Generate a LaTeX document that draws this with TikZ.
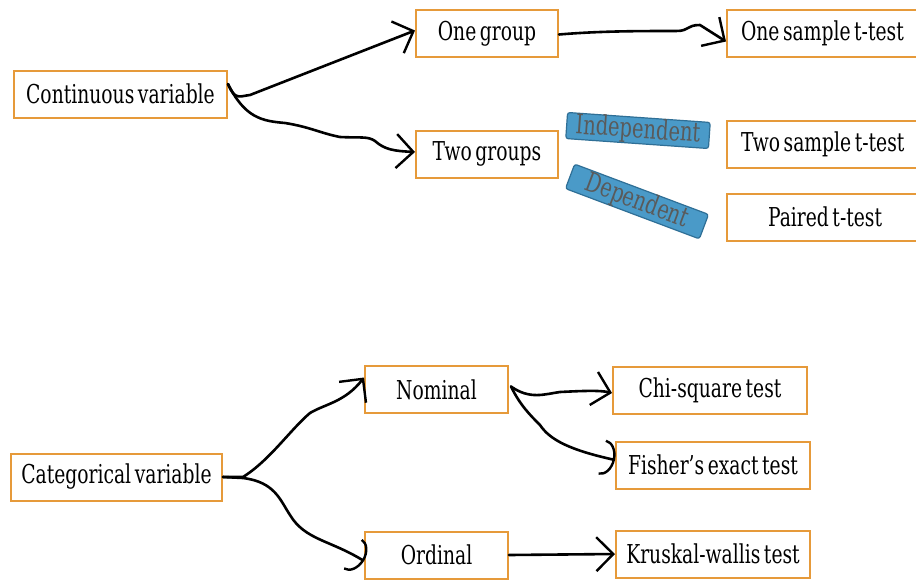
\documentclass[tikz,border=0pt]{standalone}
\usepackage{fontspec}
\setmainfont{DejaVu Serif}[FakeStretch=0.72, WordSpace=0.6]
\usetikzlibrary{arrows.meta}
\definecolor{boxorange}{HTML}{E69A3A}
\definecolor{tagblue}{HTML}{4A9AC8}
\definecolor{tagedge}{HTML}{2F6F96}
\definecolor{taggray}{HTML}{5A5A5A}
\tikzset{
  box/.style={draw=boxorange, line width=2pt, fill=white, minimum height=47pt, inner sep=0pt, font=\fontsize{26pt}{28pt}\selectfont},
  tag/.style={draw=tagedge, fill=tagblue, line width=1.2pt, rounded corners=2.5pt, minimum width=143pt, minimum height=23pt, inner sep=0pt, text=taggray, font=\fontsize{27pt}{27pt}\selectfont},
  hand/.style={line width=2.6pt, line cap=round, line join=round},
  barb/.style={hand, -{Straight Barb[length=17pt, width=34pt, line width=2.4pt]}},
  arcb/.style={hand, -{Arc Barb[length=13pt, width=36pt, line width=2.4pt]}}
}
\begin{document}
\begin{tikzpicture}[x=1pt, y=-1pt]
\useasboundingbox (0,0) rectangle (916,579);
\fill[white] (0,0) rectangle (916,579);
\begin{scope}
\clip (0,0) rectangle (916,579);
% top
\node[box, minimum width=213pt] (cont) at (120.5,94) {Continuous variable};
\node[box, minimum width=142pt] (one) at (487,33.5) {One group};
\node[box, minimum width=142pt] (two) at (487,154) {Two groups};
\node[box, minimum width=200pt] (ost) at (827,33.5) {\makebox[190pt][l]{\hspace*{9pt}One sample t-test}};
\node[box, minimum width=200pt] (tst) at (827,144) {\makebox[190pt][l]{\hspace*{9pt}Two sample t-test}};
\node[box, minimum width=200pt] (pt) at (827,217) {\makebox[190pt][l]{\hspace*{36pt}Paired t-test}};
\node[tag, rotate=-4] (ind) at (638,130.5) {\raisebox{1pt}{Independent}};
\node[tag, rotate=-20.6] (dep) at (637,201.5) {\raisebox{1pt}{Dependent}};
% bottom
\node[box, minimum width=211pt] (cat) at (116.5,477) {Categorical variable};
\node[box, minimum width=143pt] (nom) at (436.5,389.5) {Nominal};
\node[box, minimum width=143pt] (ord) at (436.5,555) {Ordinal};
\node[box, minimum width=194pt] (chi) at (710,390) {Chi-square test};
\node[box, minimum width=194pt] (fis) at (713,465) {Fisher’s exact test};
\node[box, minimum width=194pt] (kru) at (713,554) {Kruskal-wallis test};
\end{scope}
% connectors
\draw[barb] ([yshift=10pt]cont.east) .. controls (235,101) and (240,96) .. (250,95) -- ([yshift=3pt]one.west);
\draw[barb] ([yshift=10pt]cont.east) .. controls (245,118) and (262,121) .. (285,123)
  .. controls (310,127) and (320,133) .. (340,137) .. controls (360,138) and (368,136) .. (375,141)
  .. controls (385,150) and (395,151) .. ([yshift=2pt]two.west);
\draw[barb] ([yshift=-1pt]one.east) .. controls (600,31) and (640,31) .. (676,31)
  .. controls (690,31) and (686,25) .. (700,25) -- ([yshift=-8pt]ost.west);
\draw[barb] (cat.east) -- (243,477) .. controls (270,460) and (290,430) .. (310,413)
  .. controls (325,404) and (345,402) .. ([yshift=12pt]nom.west);
\draw[arcb] (cat.east) -- (243,478) .. controls (275,482) and (280,500) .. (290,515)
  .. controls (305,540) and (330,540) .. ([yshift=-6pt]ord.west);
\draw[barb] ([xshift=2pt,yshift=3pt]nom.east) .. controls (530,400) and (545,394) .. (560,392)
  .. controls (580,391) and (600,390) .. ([yshift=-3pt]chi.west);
\draw[arcb] ([xshift=2pt,yshift=3pt]nom.east) .. controls (520,405) and (530,415) .. (540,425)
  .. controls (550,440) and (570,450) .. ([yshift=5pt]fis.west);
\draw[barb] (ord.east) -- (kru.west);
\end{tikzpicture}
\end{document}
